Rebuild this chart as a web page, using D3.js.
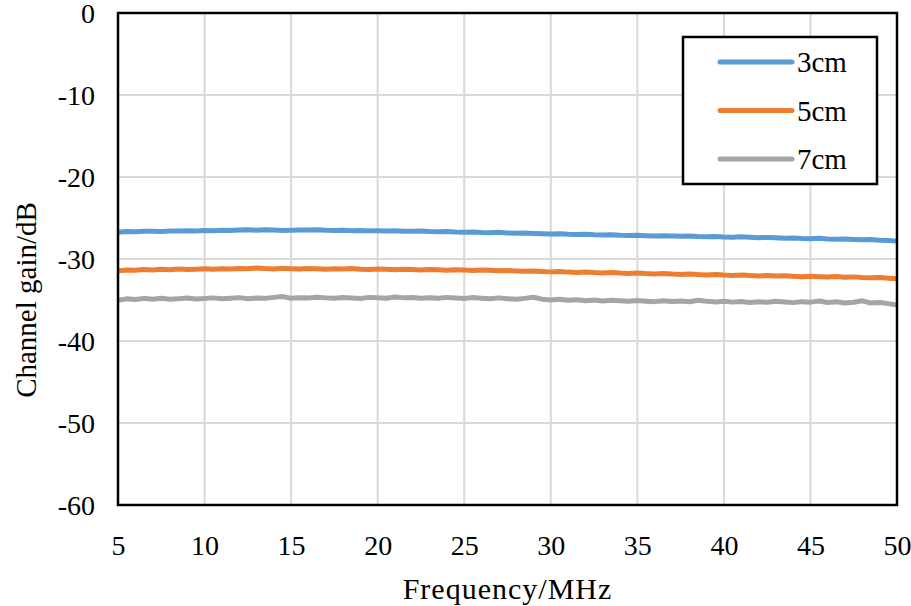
<!DOCTYPE html>
<html lang="en">
<head>
    <meta charset="UTF-8">
    <title>Channel gain vs frequency</title>
    <script src="https://d3js.org/d3.v7.min.js"></script>
    <style>
        body { margin: 0; background: #fff; }
        text { font-family: "Liberation Serif", "Times New Roman", serif; fill: #000; }
    </style>
</head>
<body>
    <div id="chart"></div>

    <script>
        // frequencies (MHz), 0.5 MHz step
        const freq = [
            5, 5.5, 6, 6.5, 7, 7.5, 8, 8.5, 9, 9.5,
            10, 10.5, 11, 11.5, 12, 12.5, 13, 13.5, 14, 14.5,
            15, 15.5, 16, 16.5, 17, 17.5, 18, 18.5, 19, 19.5,
            20, 20.5, 21, 21.5, 22, 22.5, 23, 23.5, 24, 24.5,
            25, 25.5, 26, 26.5, 27, 27.5, 28, 28.5, 29, 29.5,
            30, 30.5, 31, 31.5, 32, 32.5, 33, 33.5, 34, 34.5,
            35, 35.5, 36, 36.5, 37, 37.5, 38, 38.5, 39, 39.5,
            40, 40.5, 41, 41.5, 42, 42.5, 43, 43.5, 44, 44.5,
            45, 45.5, 46, 46.5, 47, 47.5, 48, 48.5, 49, 49.5, 50
        ];

        const gain3cm = [
            -26.74, -26.66, -26.69, -26.61, -26.63, -26.64, -26.58, -26.60, -26.55, -26.59,
            -26.52, -26.55, -26.48, -26.53, -26.46, -26.44, -26.50, -26.42, -26.47, -26.51,
            -26.49, -26.45, -26.47, -26.43, -26.50, -26.52, -26.48, -26.54, -26.53, -26.57,
            -26.55, -26.60, -26.56, -26.61, -26.63, -26.59, -26.66, -26.68, -26.64, -26.71,
            -26.74, -26.70, -26.77, -26.79, -26.75, -26.82, -26.86, -26.83, -26.88, -26.92,
            -26.96, -26.93, -26.99, -27.02, -26.98, -27.05, -27.07, -27.04, -27.10, -27.13,
            -27.11, -27.15, -27.19, -27.16, -27.21, -27.24, -27.20, -27.26, -27.29, -27.25,
            -27.31, -27.34, -27.30, -27.36, -27.40, -27.37, -27.42, -27.46, -27.43, -27.49,
            -27.52, -27.48, -27.55, -27.58, -27.56, -27.62, -27.66, -27.63, -27.70, -27.74, -27.82
        ];

        const gain5cm = [
            -31.42, -31.35, -31.38, -31.28, -31.33, -31.25, -31.30, -31.22, -31.27, -31.24,
            -31.20, -31.26, -31.18, -31.22, -31.15, -31.19, -31.10, -31.17, -31.21, -31.14,
            -31.18, -31.23, -31.16, -31.20, -31.25, -31.19, -31.22, -31.17, -31.24, -31.28,
            -31.22, -31.26, -31.30, -31.24, -31.28, -31.33, -31.27, -31.31, -31.36, -31.30,
            -31.34, -31.39, -31.33, -31.38, -31.44, -31.40, -31.46, -31.50, -31.45, -31.52,
            -31.57, -31.52, -31.60, -31.64, -31.58, -31.66, -31.70, -31.65, -31.72, -31.76,
            -31.71, -31.78, -31.82, -31.77, -31.84, -31.88, -31.83, -31.90, -31.94, -31.89,
            -31.96, -32.00, -31.95, -32.02, -32.06, -32.01, -32.08, -32.04, -32.11, -32.15,
            -32.10, -32.16, -32.20, -32.14, -32.22, -32.18, -32.26, -32.30, -32.25, -32.34, -32.42
        ];

        const gain7cm = [
            -35.02, -34.86, -34.95, -34.80, -34.90, -34.78, -34.92, -34.84, -34.76, -34.88,
            -34.82, -34.74, -34.86, -34.79, -34.71, -34.84, -34.76, -34.80, -34.68, -34.58,
            -34.80, -34.72, -34.76, -34.66, -34.74, -34.80, -34.70, -34.76, -34.82, -34.68,
            -34.72, -34.78, -34.64, -34.74, -34.70, -34.80, -34.72, -34.78, -34.68, -34.76,
            -34.82, -34.70, -34.78, -34.86, -34.74, -34.84, -34.92, -34.80, -34.66, -34.90,
            -35.00, -34.92, -35.04, -34.96, -35.08, -35.00, -35.12, -35.02, -35.10, -35.16,
            -35.06, -35.14, -35.20, -35.08, -35.18, -35.12, -35.22, -35.04, -35.16, -35.24,
            -35.14, -35.26, -35.18, -35.30, -35.20, -35.28, -35.16, -35.24, -35.32, -35.20,
            -35.26, -35.12, -35.30, -35.22, -35.36, -35.28, -35.10, -35.38, -35.30, -35.44, -35.60
        ];

        const seriesNames = ["3cm", "5cm", "7cm"];
        const seriesColors = ["#5B9BD5", "#ED7D31", "#A5A5A5"];
        const xTicks = [5, 10, 15, 20, 25, 30, 35, 40, 45, 50];
        const yTicks = [0, -10, -20, -30, -40, -50, -60];

        const series = [gain3cm, gain5cm, gain7cm].map((vals, i) => ({
            name: seriesNames[i],
            color: seriesColors[i],
            points: freq.map((f, j) => [f, vals[j]])
        }));

        const W = 911, H = 606;
        const margin = {top: 13, right: 14, bottom: 101, left: 118},
              width = W - margin.left - margin.right,
              height = H - margin.top - margin.bottom;

        const svg = d3.select("#chart").append("svg")
            .attr("width", W).attr("height", H);
        const g = svg.append("g").attr("transform", `translate(${margin.left},${margin.top})`);

        const x = d3.scaleLinear().domain([5, 50]).range([0, width]);
        const y = d3.scaleLinear().domain([-60, 0]).range([height, 0]);

        // grid
        g.append("g").selectAll("line").data(xTicks.slice(1, -1)).join("line")
            .attr("x1", d => x(d)).attr("x2", d => x(d))
            .attr("y1", 0).attr("y2", height)
            .attr("stroke", "#d9d9d9").attr("stroke-width", 2);
        g.append("g").selectAll("line").data(yTicks.slice(1, -1)).join("line")
            .attr("x1", 0).attr("x2", width)
            .attr("y1", d => y(d)).attr("y2", d => y(d))
            .attr("stroke", "#d9d9d9").attr("stroke-width", 2);

        // axes (labels only), plain hyphen for negatives
        const xAxis = g.append("g").attr("transform", `translate(0,${height})`)
            .call(d3.axisBottom(x).tickValues(xTicks).tickFormat(d => String(d)).tickSize(0).tickPadding(30));
        const yAxis = g.append("g")
            .call(d3.axisLeft(y).tickValues(yTicks).tickFormat(d => String(d)).tickSize(0).tickPadding(23));
        [xAxis, yAxis].forEach(a => {
            a.select(".domain").remove();
            a.selectAll("text").style("font-size", "28px")
                .style("font-family", "'Liberation Serif', 'Times New Roman', serif");
        });
        yAxis.selectAll("text").attr("dy", "0.35em");

        // lines
        const line = d3.line().x(d => x(d[0])).y(d => y(d[1]));
        g.selectAll(".series").data(series).join("path")
            .attr("class", "series")
            .attr("d", d => line(d.points))
            .attr("fill", "none")
            .attr("stroke", d => d.color)
            .attr("stroke-width", 5)
            .attr("stroke-linejoin", "round");

        // frame
        g.append("rect").attr("width", width).attr("height", height)
            .attr("fill", "none").attr("stroke", "#000").attr("stroke-width", 2.5);

        // legend
        const legend = svg.append("g").attr("transform", "translate(683,37)");
        legend.append("rect").attr("width", 194).attr("height", 147)
            .attr("fill", "#fff").attr("stroke", "#000").attr("stroke-width", 2.5);
        const item = legend.selectAll(".item").data(series).join("g")
            .attr("transform", (d, i) => `translate(0,${25 + i * 48.5})`);
        item.append("line").attr("x1", 37).attr("x2", 109)
            .attr("stroke", d => d.color).attr("stroke-width", 5).attr("stroke-linecap", "round");
        item.append("text").attr("x", 114).attr("dy", "0.35em")
            .style("font-size", "29px").text(d => d.name);

        // axis titles
        svg.append("text").attr("x", margin.left + width / 2).attr("y", 599)
            .attr("text-anchor", "middle").style("font-size", "30px")
            .style("letter-spacing", "1px").text("Frequency/MHz");
        svg.append("text").attr("transform", `translate(36,300) rotate(-90)`)
            .attr("text-anchor", "middle").style("font-size", "29px").text("Channel gain/dB");
    </script>
</body>
</html>
